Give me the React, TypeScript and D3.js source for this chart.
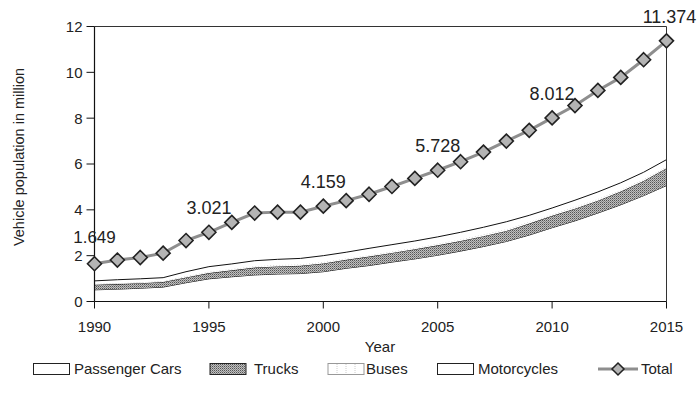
import React from 'react';
import * as d3 from 'd3';

const years = [1990, 1991, 1992, 1993, 1994, 1995, 1996, 1997, 1998, 1999, 2000, 2001, 2002, 2003, 2004, 2005, 2006, 2007, 2008, 2009, 2010, 2011, 2012, 2013, 2014, 2015];
const passengerCars = [0.51, 0.54, 0.58, 0.63, 0.82, 0.99, 1.08, 1.16, 1.20, 1.22, 1.30, 1.45, 1.57, 1.72, 1.86, 2.02, 2.20, 2.40, 2.62, 2.90, 3.22, 3.52, 3.86, 4.22, 4.62, 5.06];
const trucks = [0.22, 0.22, 0.22, 0.22, 0.23, 0.25, 0.28, 0.32, 0.33, 0.34, 0.36, 0.37, 0.39, 0.40, 0.42, 0.43, 0.44, 0.45, 0.46, 0.50, 0.52, 0.53, 0.54, 0.58, 0.64, 0.76];
const buses = [0.04, 0.04, 0.04, 0.04, 0.05, 0.06, 0.06, 0.06, 0.06, 0.06, 0.06, 0.06, 0.06, 0.06, 0.06, 0.07, 0.07, 0.07, 0.07, 0.07, 0.07, 0.07, 0.07, 0.07, 0.07, 0.06];
const motorcycles = [0.13, 0.15, 0.15, 0.15, 0.20, 0.22, 0.22, 0.24, 0.25, 0.26, 0.28, 0.27, 0.30, 0.30, 0.30, 0.30, 0.31, 0.32, 0.33, 0.29, 0.27, 0.30, 0.31, 0.31, 0.31, 0.31];
const total = [1.649, 1.81, 1.92, 2.11, 2.66, 3.021, 3.45, 3.86, 3.90, 3.90, 4.159, 4.40, 4.68, 5.02, 5.37, 5.728, 6.10, 6.52, 7.00, 7.47, 8.012, 8.55, 9.21, 9.78, 10.55, 11.374];
const labeledYears = [1990, 1995, 2000, 2005, 2010, 2015];
const xTicks = [1990, 1995, 2000, 2005, 2010, 2015];
const yTicks = [0, 2, 4, 6, 8, 10, 12];
const seriesNames = ['Passenger Cars', 'Trucks', 'Buses', 'Motorcycles'];

const W = 700;
const H = 406;
const FONT = '"Liberation Sans", Arial, Helvetica, sans-serif';

export default function App() {
  const x = d3.scaleLinear().domain([1990, 2015]).range([94.5, 666.5]);
  const y = d3.scaleLinear().domain([0, 12]).range([301.5, 26.5]);

  const rows = years.map((yr, i) => ({
    year: yr,
    'Passenger Cars': passengerCars[i],
    Trucks: trucks[i],
    Buses: buses[i],
    Motorcycles: motorcycles[i],
  }));
  const stacked = d3.stack<any>().keys(seriesNames)(rows);

  const area = d3
    .area<any>()
    .x((d) => x(d.data.year))
    .y0((d) => y(d[0]))
    .y1((d) => y(d[1]));
  const topLine = d3
    .line<any>()
    .x((d) => x(d.data.year))
    .y((d) => y(d[1]));

  const totalLine = d3
    .line<number>()
    .x((_, i) => x(years[i]))
    .y((d) => y(d));

  const fills: Record<string, string> = {
    'Passenger Cars': '#ffffff',
    Trucks: 'url(#truckPat)',
    Buses: '#ffffff',
    Motorcycles: '#ffffff',
  };
  const strokes: Record<string, string> = {
    'Passenger Cars': '#111',
    Trucks: '#111',
    Buses: '#bbb',
    Motorcycles: '#111',
  };

  const diamond = (cx: number, cy: number, r: number) =>
    `M${cx},${cy - r}L${cx + r},${cy}L${cx},${cy + r}L${cx - r},${cy}Z`;

  const legendY = 369;
  const legendItems = [
    { name: 'Passenger Cars', bx: 33.5, tx: 74 },
    { name: 'Trucks', bx: 210, tx: 254 },
    { name: 'Buses', bx: 328, tx: 366 },
    { name: 'Motorcycles', bx: 437.5, tx: 478 },
  ];

  return (
    <svg
      width={W}
      height={H}
      style={{ position: 'absolute', left: 0, top: 0, background: '#fff' }}
      fontFamily={FONT}
    >
      <defs>
        <pattern id="truckPat" patternUnits="userSpaceOnUse" width="2" height="2">
          <rect width="2" height="2" fill="#c0c0c0" />
          <rect width="1" height="1" fill="#555" />
          <rect x="1" y="1" width="1" height="1" fill="#888" />
        </pattern>
      </defs>
      <rect width={W} height={H} fill="#fff" />

      {stacked.map((s) => (
        <g key={s.key}>
          <path d={area(s) || ''} fill={fills[s.key]} stroke="none" />
          <path
            d={topLine(s) || ''}
            fill="none"
            stroke={strokes[s.key]}
            strokeWidth={1}
            strokeDasharray={s.key === 'Buses' ? '1,2' : undefined}
          />
        </g>
      ))}

      <line x1={x(1990)} x2={x(2015)} y1={y(12)} y2={y(12)} stroke="#333" strokeWidth={1} />
      <line x1={x(2015)} x2={x(2015)} y1={y(12)} y2={y(0)} stroke="#333" strokeWidth={1} />

      <line x1={x(1990)} x2={x(1990)} y1={y(12)} y2={y(0)} stroke="#111" strokeWidth={1.2} />
      {yTicks.map((t) => (
        <g key={t}>
          <line x1={x(1990) - 8} x2={x(1990)} y1={y(t)} y2={y(t)} stroke="#111" />
          <text x={x(1990) - 12} y={y(t)} dy="0.36em" textAnchor="end" fontSize={15} fill="#222">
            {t}
          </text>
        </g>
      ))}
      <text
        transform={`translate(24,${157}) rotate(-90)`}
        textAnchor="middle"
        fontSize={14.5}
        fill="#222"
      >
        Vehicle population in million
      </text>

      <line x1={x(1990)} x2={x(2015)} y1={y(0)} y2={y(0)} stroke="#111" strokeWidth={1.2} />
      {xTicks.map((t) => (
        <g key={t}>
          <line x1={x(t)} x2={x(t)} y1={y(0)} y2={y(0) + 7} stroke="#111" />
          <text x={x(t)} y={y(0) + 30} textAnchor="middle" fontSize={15} fill="#222">
            {t}
          </text>
        </g>
      ))}
      <text x={380} y={352} textAnchor="middle" fontSize={15} fill="#222">
        Year
      </text>

      <path d={totalLine(total) || ''} fill="none" stroke="#8e8e8e" strokeWidth={3} />
      {total.map((v, i) => (
        <path
          key={i}
          d={diamond(x(years[i]), y(v), 7)}
          fill="#b4b4b4"
          stroke="#222"
          strokeWidth={1.6}
        />
      ))}
      {labeledYears.map((yr) => {
        const i = years.indexOf(yr);
        return (
          <text
            key={yr}
            x={x(yr) + (yr === 2015 ? 3 : 0)}
            y={y(total[i]) - (yr === 1990 ? 21 : 18)}
            textAnchor="middle"
            fontSize={yr === 1990 ? 17 : 18}
            fill="#222"
          >
            {total[i].toFixed(3)}
          </text>
        );
      })}

      {legendItems.map((it) => (
        <g key={it.name}>
          <rect
            x={it.bx}
            y={legendY - 5.5}
            width={36}
            height={11}
            fill={fills[it.name]}
            stroke={it.name === 'Buses' ? '#999' : '#222'}
            strokeWidth={1}
          />
          {it.name === 'Buses' &&
            [9, 18, 27].map((dx) => (
              <line
                key={dx}
                x1={it.bx + dx}
                x2={it.bx + dx}
                y1={legendY - 5}
                y2={legendY + 5}
                stroke="#ccc"
                strokeDasharray="1,1"
              />
            ))}
          <text x={it.tx} y={legendY} dy="0.36em" fontSize={15} fill="#222">
            {it.name}
          </text>
        </g>
      ))}
      <line x1={598} x2={638} y1={legendY} y2={legendY} stroke="#8e8e8e" strokeWidth={3} />
      <path d={diamond(618, legendY, 6)} fill="#b4b4b4" stroke="#222" strokeWidth={1.5} />
      <text x={641} y={legendY} dy="0.36em" fontSize={15} fill="#222">
        Total
      </text>
    </svg>
  );
}
